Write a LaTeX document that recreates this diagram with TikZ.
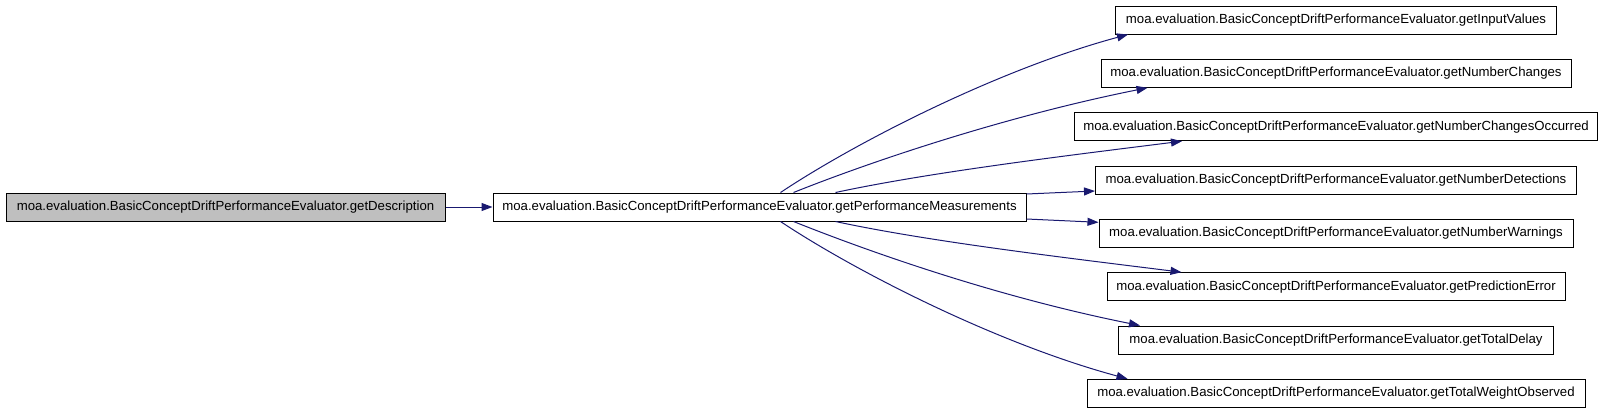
\documentclass[tikz,border=0pt]{standalone}
\usepackage{fontspec}
\setmainfont{Liberation Sans}
\usetikzlibrary{arrows.meta}
\definecolor{callblue}{HTML}{191970}
\definecolor{focusgrey}{HTML}{BFBFBF}

\begin{document}
\begin{tikzpicture}[x=1pt, y=-1pt,
    fn/.style={draw=black, line width=1pt, minimum height=28pt, inner xsep=3pt, inner ysep=0pt,
               font=\fontsize{13.2}{15}\selectfont},
    call/.style={draw=callblue, line width=1pt, -{Triangle[length=11pt,width=8pt,fill=callblue]}}]
    \useasboundingbox (0,0) rectangle (1603,413);

    \node[fn, fill=focusgrey, minimum width=439pt] (desc) at (225.5,207) {moa.evaluation.BasicConceptDriftPerformanceEvaluator.getDescription};
    \node[fn, minimum width=533pt] (perf) at (759.5,207) {moa.evaluation.BasicConceptDriftPerformanceEvaluator.getPerformanceMeasurements};

    \node[fn, minimum width=441pt] (inval) at (1336,20) {moa.evaluation.BasicConceptDriftPerformanceEvaluator.getInputValues};
    \node[fn, minimum width=470pt] (numch) at (1336,73.3) {moa.evaluation.BasicConceptDriftPerformanceEvaluator.getNumberChanges};
    \node[fn, minimum width=523pt] (occur) at (1336,126.7) {moa.evaluation.BasicConceptDriftPerformanceEvaluator.getNumberChangesOccurred};
    \node[fn, minimum width=481pt] (detect) at (1336,180) {moa.evaluation.BasicConceptDriftPerformanceEvaluator.getNumberDetections};
    \node[fn, minimum width=474pt] (warn) at (1336,233.3) {moa.evaluation.BasicConceptDriftPerformanceEvaluator.getNumberWarnings};
    \node[fn, minimum width=458pt] (prederr) at (1336,286.7) {moa.evaluation.BasicConceptDriftPerformanceEvaluator.getPredictionError};
    \node[fn, minimum width=435pt] (delay) at (1336,340) {moa.evaluation.BasicConceptDriftPerformanceEvaluator.getTotalDelay};
    \node[fn, minimum width=498pt] (weight) at (1336,393.3) {moa.evaluation.BasicConceptDriftPerformanceEvaluator.getTotalWeightObserved};

    \draw[call] (desc) -- (perf);

    % calls above the caller
    \draw[call] ([xshift=21pt]perf.north) .. controls +(75,-50) and +(-130,35) .. ([xshift=13pt]inval.south west);
    \draw[call] ([xshift=34pt]perf.north) .. controls +(80,-32) and +(-140,28) .. ([xshift=47pt]numch.south west);
    \draw[call] ([xshift=76pt]perf.north) .. controls +(93,-20) and +(-120,15) .. ([xshift=108pt]occur.south west);
    \draw[call] ([yshift=13pt]perf.east) -- ([yshift=-11pt]detect.west);

    % calls below the caller
    \draw[call] ([yshift=-12pt]perf.east) -- ([yshift=11pt]warn.west);
    \draw[call] ([xshift=76pt]perf.south) .. controls +(93,20) and +(-120,-15) .. ([xshift=75pt]prederr.north west);
    \draw[call] ([xshift=34pt]perf.south) .. controls +(80,32) and +(-140,-28) .. ([xshift=22pt]delay.north west);
    \draw[call] ([xshift=21pt]perf.south) .. controls +(75,50) and +(-130,-35) .. ([xshift=41pt]weight.north west);
\end{tikzpicture}
\end{document}
